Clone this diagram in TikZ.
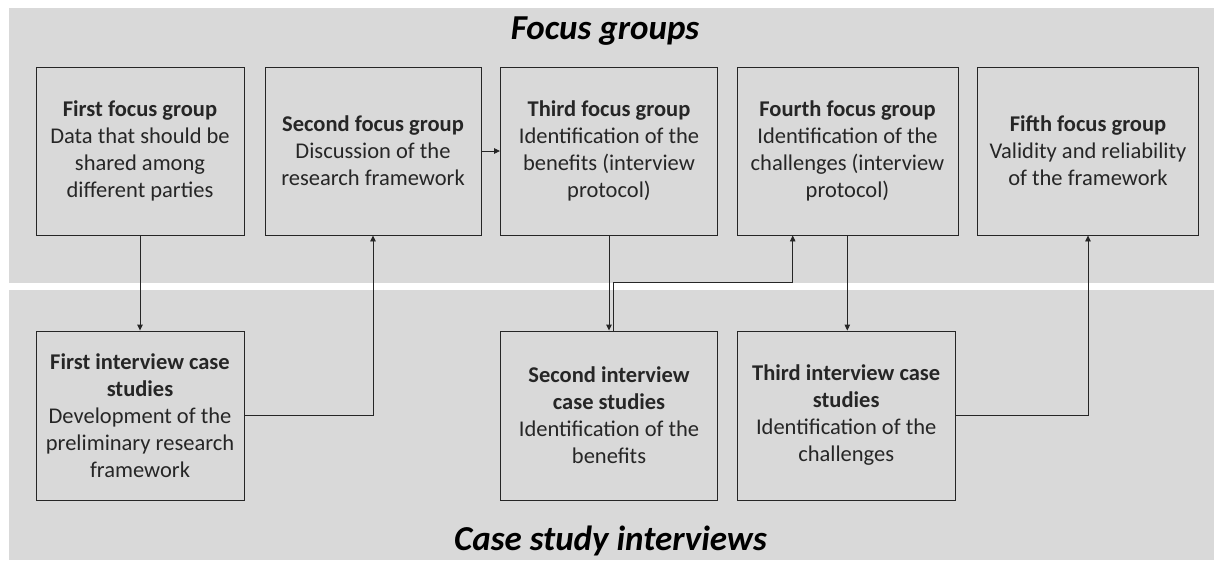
\documentclass[tikz,border=0pt]{standalone}
\usepackage{fontspec}
\setmainfont{Carlito}
\usetikzlibrary{arrows.meta}
\definecolor{bandgray}{HTML}{D9D9D9}
\definecolor{linegray}{HTML}{262626}
\tikzset{
  stagebox/.style={draw=linegray, line width=0.9pt, fill=bandgray, inner sep=0pt,
    align=center, font=\fontsize{22.5}{27}\selectfont, text=black!85},
  conn/.style={draw=linegray, line width=0.9pt},
  arr/.style={conn, -{Triangle[length=6pt,width=5.5pt]}},
  bandtitle/.style={font=\fontsize{35}{40}\selectfont\bfseries\itshape, anchor=base, inner sep=0pt}
}
\begin{document}
\begin{tikzpicture}[x=1pt,y=-1pt]
\useasboundingbox (0,0) rectangle (1214,560);
\fill[white] (0,0) rectangle (1214,560);
\fill[bandgray] (9,8) rectangle (1214,283);
\fill[bandgray] (9,290) rectangle (1214,560);

\node[bandtitle] (tfg) at (605,39.5) {Focus groups};
\node[bandtitle] (tcs) at (610.5,550) {Case study interviews};

\node[stagebox, minimum width=208pt, minimum height=168pt] (f1) at (140,151)
  {\textbf{First focus group}\\Data that should be\\shared among\\different parties};
\node[stagebox, minimum width=216pt, minimum height=168pt] (f2) at (373,151)
  {\textbf{Second focus group}\\Discussion of the\\research framework};
\node[stagebox, minimum width=217pt, minimum height=168pt] (f3) at (609,151)
  {\textbf{Third focus group}\\Identification of the\\benefits (interview\\protocol)};
\node[stagebox, minimum width=221pt, minimum height=168pt] (f4) at (847.5,151)
  {\textbf{Fourth focus group}\\Identification of the\\challenges (interview\\protocol)};
\node[stagebox, minimum width=220.6pt, minimum height=168pt] (f5) at (1088,151)
  {\textbf{Fifth focus group}\\Validity and reliability\\of the framework};

\node[stagebox, minimum width=208pt, minimum height=169pt] (c1) at (140,415.5)
  {\textbf{First interview case}\\\textbf{studies}\\Development of the\\preliminary research\\framework};
\node[stagebox, minimum width=217pt, minimum height=169pt] (c2) at (609,415.5)
  {\textbf{Second interview}\\\textbf{case studies}\\Identification of the\\benefits};
\node[stagebox, minimum width=218.5pt, minimum height=169pt] (c3) at (846.2,415.5)
  {\textbf{Third interview case}\\\textbf{studies}\\Identification of the\\challenges};

\coordinate (j) at (792.7,282.7);

\draw[arr] (f1.south) -- (c1.north);
\draw[arr] (c1.east) -| (f2.south);
\draw[arr] (f2.east) -- (f3.west);
\draw[arr] (f3.south) -- (c2.north);
\draw[arr] ([xshift=4.3pt]c2.north) |- (j) -- (j |- f4.south);
\draw[arr] ([xshift=-0.2pt]f4.south) -- ([xshift=-0.2pt]f4.south |- c3.north);
\draw[arr] (c3.east) -| (f5.south);
\end{tikzpicture}
\end{document}
